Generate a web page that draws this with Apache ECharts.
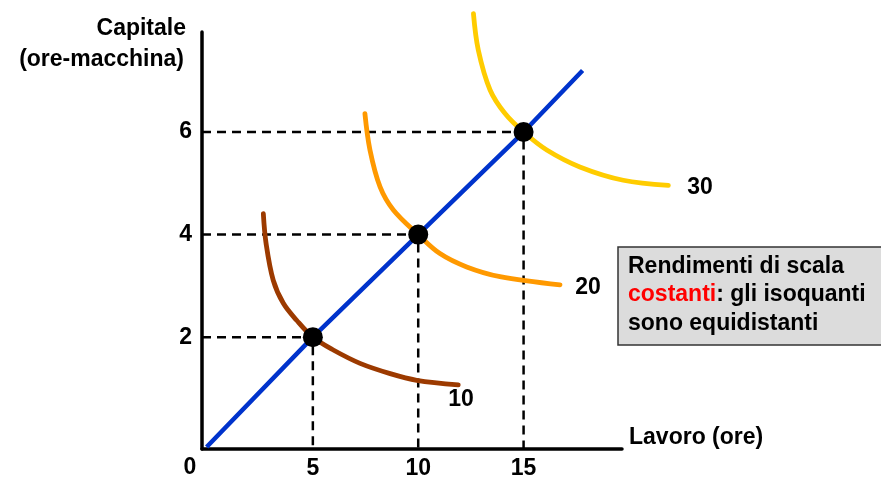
<!DOCTYPE html>
<html>
<head>
<meta charset="utf-8">
<script src="https://cdn.jsdelivr.net/npm/echarts@6/dist/echarts.min.js"></script>
<style>html,body{margin:0;padding:0;background:#fff}#c{width:881px;height:480px}</style>
</head>
<body>
<div id="c"></div>
<script>
// Data
const xTicks = [5, 10, 15];
const yTicks = [2, 4, 6];
const optimalPoints = [[5, 2], [10, 4], [15, 6]];
const expansionPath = [[-0.04, -0.14], [5, 2], [10, 4], [15, 6], [17.8, 7.2]];
const iso10 = [[2.65, 4.41], [2.78, 3.83], [3.12, 3.11], [3.60, 2.66], [4.23, 2.33], [5, 2], [5.97, 1.75], [7.24, 1.49], [8.67, 1.29], [9.93, 1.16], [11.9, 1.07]];
const iso20 = [[7.47, 6.36], [7.71, 5.65], [8.19, 4.93], [8.82, 4.48], [10, 4], [11.03, 3.63], [12.30, 3.37], [13.88, 3.18], [16.73, 3.02]];
const iso30 = [[12.62, 8.31], [12.85, 7.60], [13.41, 6.82], [14.12, 6.36], [15, 6], [16.10, 5.65], [17.67, 5.32], [19.73, 5.06], [21.87, 4.96]];
const isoNames = ['10', '20', '30'];
const xMin = -0.26, xMax = 19.67, yMin = -0.18, yMax = 7.95;
const xMaxWide = 23;

const FONT = "'Liberation Sans', Arial, sans-serif";
const chart = echarts.init(document.getElementById('c'));

const L = 202, R = 622, T = 32, B = 449;
const pxPerX = (R - L) / (xMax - xMin);
const wideWidth = (xMaxWide - xMin) * pxPerX;

function guide(p) {
  return {
    type: 'line', data: [[xMin, p[1]], [p[0], p[1]], [p[0], yMin]],
    symbol: 'none', silent: true, z: 1,
    lineStyle: { color: '#000', width: 2.5, type: [9, 6] }
  };
}
function iso(name, data, color, idx) {
  return {
    type: 'line', name: name, data: data, symbol: 'none', smooth: 0.35, clip: false, z: 2,
    xAxisIndex: idx, yAxisIndex: idx,
    lineStyle: { color: color, width: 4.8, cap: 'round' }
  };
}

chart.setOption({
  animation: false,
  grid: [
    { left: L, width: R - L, top: T, height: B - T, outerBoundsMode: 'none' },
    { left: L, width: wideWidth, top: T, height: B - T, outerBoundsMode: 'none' }
  ],
  xAxis: [{
    type: 'value', min: xMin, max: xMax, gridIndex: 0,
    axisLine: { onZero: false, lineStyle: { color: '#000', width: 3.5 } },
    axisTick: { show: false },
    splitLine: { show: false },
    axisLabel: { customValues: xTicks, color: '#000', fontWeight: 'bold', fontSize: 23, fontFamily: FONT, margin: 8 }
  }, {
    type: 'value', min: xMin, max: xMaxWide, gridIndex: 1, show: false
  }],
  yAxis: [{
    type: 'value', min: yMin, max: yMax, gridIndex: 0,
    axisLine: { show: true, onZero: false, lineStyle: { color: '#000', width: 3.5 } },
    axisTick: { show: false },
    splitLine: { show: false },
    axisLabel: { customValues: yTicks, color: '#000', fontWeight: 'bold', fontSize: 23, fontFamily: FONT, margin: 10 }
  }, {
    type: 'value', min: yMin, max: yMax, gridIndex: 1, show: false
  }],
  series: [
    guide(optimalPoints[0]), guide(optimalPoints[1]), guide(optimalPoints[2]),
    iso(isoNames[0], iso10, '#9c3a00', 0),
    iso(isoNames[1], iso20, '#ff9900', 0),
    iso(isoNames[2], iso30, '#ffcc00', 1),
    {
      type: 'line', data: expansionPath, symbol: 'none', z: 3,
      lineStyle: { color: '#0033cc', width: 4.5 }
    },
    {
      type: 'scatter', data: optimalPoints, symbolSize: 20, z: 4,
      itemStyle: { color: '#000', opacity: 1 }
    }
  ],
  graphic: [
    { type: 'text', x: 186, y: 29, style: { text: 'Capitale', font: 'bold 23px ' + FONT, fill: '#000', align: 'right', verticalAlign: 'middle' } },
    { type: 'text', x: 184, y: 60, style: { text: '(ore-macchina)', font: 'bold 23px ' + FONT, fill: '#000', align: 'right', verticalAlign: 'middle' } },
    { type: 'text', x: 190, y: 468, style: { text: '0', font: 'bold 23px ' + FONT, fill: '#000', align: 'center', verticalAlign: 'middle' } },
    { type: 'text', x: 629, y: 438, style: { text: 'Lavoro (ore)', font: 'bold 23px ' + FONT, fill: '#000', align: 'left', verticalAlign: 'middle' } },
    { type: 'text', x: 461, y: 400, style: { text: isoNames[0], font: 'bold 23px ' + FONT, fill: '#000', align: 'center', verticalAlign: 'middle' } },
    { type: 'text', x: 588, y: 288, style: { text: isoNames[1], font: 'bold 23px ' + FONT, fill: '#000', align: 'center', verticalAlign: 'middle' } },
    { type: 'text', x: 700, y: 188, style: { text: isoNames[2], font: 'bold 23px ' + FONT, fill: '#000', align: 'center', verticalAlign: 'middle' } },
    { type: 'rect', shape: { x: 618, y: 247, width: 290, height: 98 }, style: { fill: '#dcdcdc', stroke: '#333', lineWidth: 1.5 } },
    {
      type: 'text', x: 628, y: 252.5,
      style: {
        text: 'Rendimenti di scala\n{r|costanti}: gli isoquanti\nsono equidistanti',
        font: 'bold 23px ' + FONT, fill: '#000', lineHeight: 28.3,
        rich: { r: { fill: '#ff0000', font: 'bold 23px ' + FONT, lineHeight: 28.3 } }
      }
    }
  ]
});
</script>
</body>
</html>
